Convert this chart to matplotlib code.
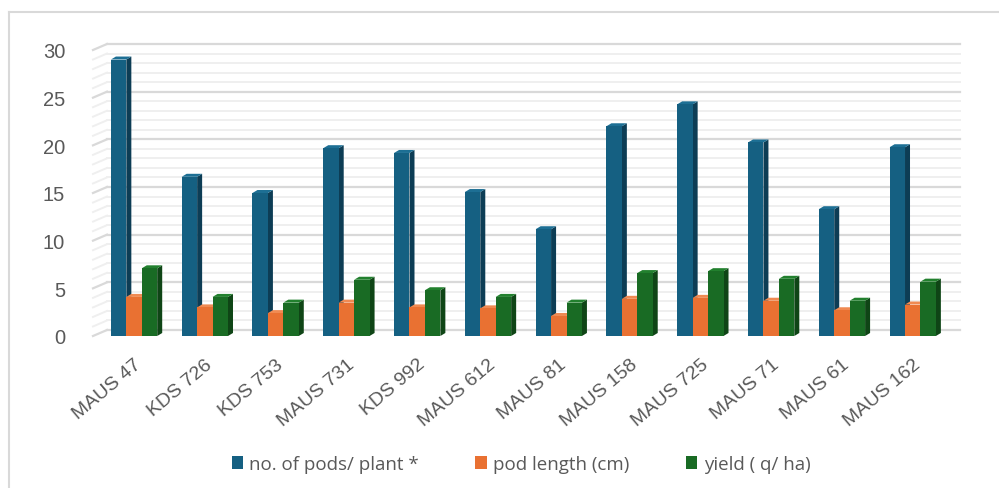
import numpy as np
import matplotlib
matplotlib.use("Agg")
from matplotlib import pyplot as plt
from matplotlib.patches import Polygon, Patch
from matplotlib.lines import Line2D

# data
varieties = ["MAUS 47", "KDS 726", "KDS 753", "MAUS 731", "KDS 992", "MAUS 612",
             "MAUS 81", "MAUS 158", "MAUS 725", "MAUS 71", "MAUS 61", "MAUS 162"]
pods_per_plant = [29.0, 16.7, 15.0, 19.7, 19.2, 15.1, 11.2, 22.0, 24.3, 20.3, 13.3, 19.8]
pod_length = [4.1, 3.0, 2.4, 3.5, 3.0, 2.9, 2.1, 3.9, 4.0, 3.7, 2.7, 3.3]
yield_qha = [7.1, 4.1, 3.5, 5.9, 4.8, 4.1, 3.5, 6.6, 6.8, 6.0, 3.7, 5.7]
series_names = ["no. of pods/ plant *", "pod length (cm)", "yield ( q/ ha)"]

face_cols = ["#156082", "#E97132", "#196B24"]
side_cols = ["#0D3D55", "#B4541F", "#0F4516"]
top_cols = ["#1D6F94", "#F08A52", "#22802E"]

plt.rcParams['font.family'] = ['Liberation Sans', 'DejaVu Sans']

fig = plt.figure(figsize=(9.99, 4.89), dpi=100)
W, H = 999, 489
ax_l, ax_r, ax_b, ax_t = 93, 946, 337, 51
ax = fig.add_axes([ax_l / W, 1 - ax_b / H, (ax_r - ax_l) / W, (ax_b - ax_t) / H])
xlim = (-0.58, 11.47)
ylim = (0, 30)
ax.set_xlim(*xlim)
ax.set_ylim(*ylim)

# pixel -> data conversions for the fake 3D depth
px_x = (xlim[1] - xlim[0]) / (ax_r - ax_l)
px_y = (ylim[1] - ylim[0]) / (ax_b - ax_t)
wall_dx, wall_dy = 14 * px_x, 6 * px_y
bar_dx, bar_dy = 5 * px_x, 3 * px_y

# back wall gridlines + left wall diagonals
for v in range(0, 31):
    major = v % 5 == 0
    col = "#D9D9D9" if major else "#EFEFEF"
    lw = 1.6 if major else 1.4
    ax.plot([xlim[0] + wall_dx, xlim[1] + wall_dx], [v + wall_dy, v + wall_dy],
            color=col, lw=lw, zorder=0, clip_on=False)
    ax.plot([xlim[0], xlim[0] + wall_dx], [v, v + wall_dy],
            color=col, lw=lw, zorder=0, clip_on=False)

x = np.arange(len(varieties))
w = 0.218
data = [pods_per_plant, pod_length, yield_qha]
offsets = [-w, 0, w]
for k, vals in enumerate(data):
    xs = x + offsets[k]
    ax.bar(xs, vals, width=w, color=face_cols[k], edgecolor="none", zorder=3)
    for xi, v in zip(xs, vals):
        xr = xi + w / 2
        xl = xi - w / 2
        side = Polygon([[xr, 0], [xr + bar_dx, bar_dy], [xr + bar_dx, v + bar_dy], [xr, v]],
                       closed=True, facecolor=side_cols[k], edgecolor="none", zorder=2)
        top = Polygon([[xl, v], [xl + bar_dx, v + bar_dy], [xr + bar_dx, v + bar_dy], [xr, v]],
                      closed=True, facecolor=top_cols[k], edgecolor="none", zorder=2)
        ax.add_patch(side)
        ax.add_patch(top)

for s in ax.spines.values():
    s.set_visible(False)
ax.set_yticks(range(0, 31, 5))
ax.tick_params(axis="y", length=0, pad=20, labelsize=14.5, labelcolor="#595959")
ax.set_xticks(x)
ax.set_xticklabels(varieties, rotation=40, ha="right", va="top",
                   rotation_mode="anchor", fontsize=14, color="#595959")
ax.tick_params(axis="x", length=0, pad=14)

handles = [Patch(facecolor=c, edgecolor="none") for c in face_cols]
leg = fig.legend(handles, series_names, loc="center", bbox_to_anchor=(521 / W, 1 - 465 / H),
                 ncol=3, frameon=False, handlelength=0.6, handleheight=0.75,
                 handletextpad=0.35, columnspacing=3.0,
                 prop={'family': ['Open Sans', 'DejaVu Sans'], 'size': 13.5})
for t in leg.get_texts():
    t.set_color("#595959")

# chart area frame (top and left only visible)
fig.add_artist(Line2D([9 / W, 1], [1 - 13 / H, 1 - 13 / H], color="#D9D9D9", lw=1.5))
fig.add_artist(Line2D([9 / W, 9 / W], [0, 1 - 13 / H], color="#D9D9D9", lw=1.5))

fig.savefig("out.png", dpi=100)
